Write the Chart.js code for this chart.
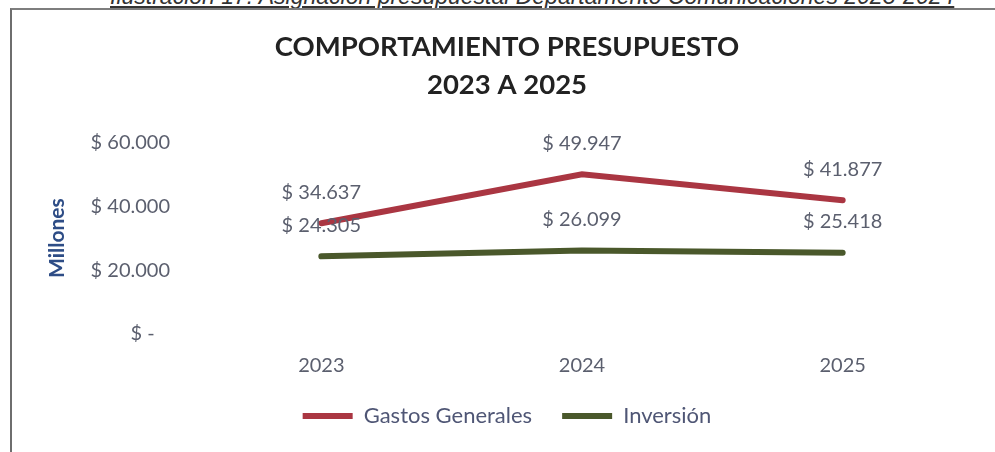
<!DOCTYPE html>
<html>
<head>
<meta charset="utf-8">
<script src="https://cdn.jsdelivr.net/npm/chart.js@4.4.1/dist/chart.umd.min.js"></script>
<style>
  html, body { margin: 0; padding: 0; background: #fff; overflow: hidden; }
  body { width: 995px; height: 452px; position: relative; }
  #caption {
    position: absolute; left: 110px; top: -17px; white-space: nowrap;
    font: italic 23px "Liberation Sans", sans-serif; line-height: 26px; color: #333;
    text-decoration: underline;
  }
  #box {
    position: absolute; left: 10px; top: 8px; width: 1000px; height: 460px;
    border-left: 2px solid #6e6e6e; border-top: 2px solid #7e7e7e;
  }
  #wrap { position: absolute; left: 12px; top: 10px; width: 983px; height: 442px; }
</style>
</head>
<body>
<div id="caption">Ilustración 17: Asignación presupuestal Departamento Comunicaciones 2023-2024</div>
<div id="box"></div>
<div id="wrap"><canvas id="chart"></canvas></div>
<script>
const years = ['2023', '2024', '2025']
const gastosGenerales = [34637, 49947, 41877]
const inversion = [24305, 26099, 25418]
const yTicks = [0, 20000, 40000, 60000]

const FONT = 'Lato, "Open Sans", sans-serif'

function miles(v) {
    return String(v).replace(/\B(?=(\d{3})+(?!\d))/g, '.')
}

// etiquetas de valor encima de cada punto
const valueLabels = {
    id: 'valueLabels',
    afterDatasetsDraw(chart) {
        const ctx = chart.ctx
        ctx.save()
        ctx.font = '20px ' + FONT
        ctx.fillStyle = '#5b5f6e'
        ctx.textAlign = 'center'
        ctx.textBaseline = 'middle'
        chart.data.datasets.forEach((ds, i) => {
            chart.getDatasetMeta(i).data.forEach((pt, j) => {
                ctx.fillText('$ ' + miles(ds.data[j]), pt.x, pt.y - 31)
            })
        })
        ctx.restore()
    }
}

new Chart(document.getElementById('chart'), {
    type: 'line',
    data: {
        labels: years,
        datasets: [
            {
                label: 'Gastos Generales',
                data: gastosGenerales,
                borderColor: '#aa3642',
                backgroundColor: '#aa3642',
                borderWidth: 6,
                borderCapStyle: 'round',
                pointRadius: 0,
                tension: 0
            },
            {
                label: 'Inversión',
                data: inversion,
                borderColor: '#4a582b',
                backgroundColor: '#4a582b',
                borderWidth: 6,
                borderCapStyle: 'round',
                pointRadius: 0,
                tension: 0
            }
        ]
    },
    options: {
        responsive: true,
        maintainAspectRatio: false,
        animation: false,
        layout: { padding: { left: 29, right: 22, top: 0, bottom: 15 } },
        plugins: {
            title: {
                display: true,
                text: ['COMPORTAMIENTO PRESUPUESTO', '2023 A 2025'],
                color: '#222222',
                font: { family: FONT, size: 27.5, weight: 'bold', lineHeight: 1.35 },
                padding: { top: 19, bottom: 39 }
            },
            legend: {
                position: 'bottom',
                labels: {
                    usePointStyle: true,
                    pointStyle: 'line',
                    pointStyleWidth: 50,
                    padding: 30,
                    color: '#4f5675',
                    font: { family: FONT, size: 22 }
                }
            },
            tooltip: { enabled: false }
        },
        scales: {
            x: {
                offset: true,
                grid: { display: false, drawTicks: false },
                border: { display: false },
                ticks: { color: '#5b5f6e', padding: 20, font: { family: FONT, size: 20 } },
                afterFit(scale) { scale.height = 41 }
            },
            y: {
                min: 0,
                max: 60000,
                afterBuildTicks(scale) { scale.ticks = yTicks.map(v => ({ value: v })) },
                grid: { display: false, drawTicks: false },
                border: { display: false },
                ticks: {
                    color: '#5b5f6e',
                    padding: 21,
                    font: { family: FONT, size: 20 },
                    callback: v => v === 0 ? '$ -   ' : '$ ' + miles(v)
                },
                title: {
                    display: true,
                    text: 'Millones',
                    color: '#2e4d86',
                    font: { family: FONT, size: 21, weight: 'bold' },
                    padding: { top: 4, bottom: 0 }
                },
                afterFit(scale) { scale.width = 150 }
            }
        }
    },
    plugins: [valueLabels]
})
</script>
</body>
</html>
